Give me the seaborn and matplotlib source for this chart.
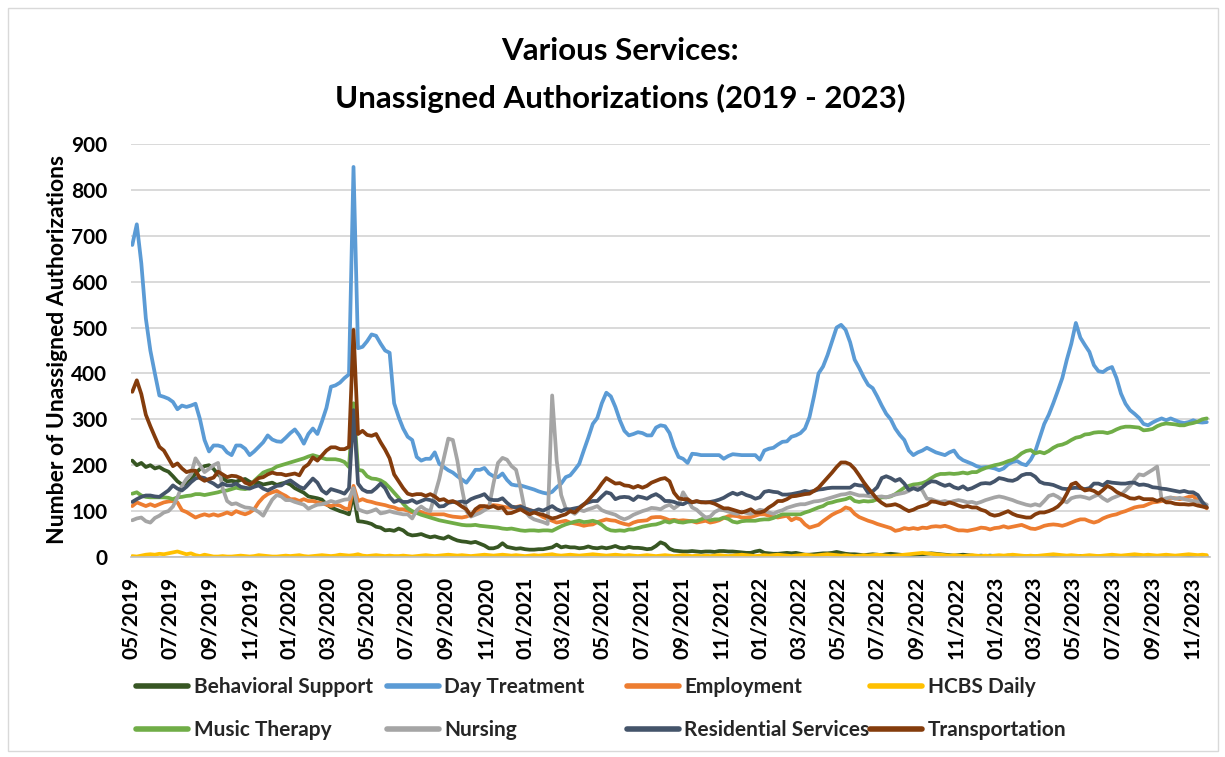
import pandas as pd
import matplotlib
matplotlib.use("Agg")
import matplotlib.pyplot as plt
import matplotlib.dates as mdates
from matplotlib.lines import Line2D
from matplotlib.patches import Rectangle
import seaborn as sns

# Weekly counts of unassigned authorizations, first week of May 2019 onward
behavioral_support = [
    210, 200, 205, 196, 200, 193, 196, 190, 186, 176,
    165, 158, 160, 168, 182, 192, 198, 200, 192, 180,
    172, 165, 166, 164, 168, 170, 164, 160, 162, 158,
    160, 162, 157, 160, 162, 158, 150, 145, 140, 132,
    130, 128, 125, 115, 108, 104, 100, 97, 93, 137,
    78, 77, 75, 72, 66, 64, 58, 59, 57, 62,
    58, 50, 47, 48, 50, 46, 43, 45, 42, 40,
    45, 40, 36, 34, 33, 31, 33, 29, 25, 19,
    19, 22, 30, 22, 20, 18, 19, 17, 16, 16,
    17, 17, 19, 21, 27, 21, 23, 21, 21, 19,
    20, 23, 20, 19, 21, 19, 21, 24, 20, 19,
    22, 20, 20, 19, 17, 18, 24, 32, 28, 18,
    14, 13, 12, 12, 13, 12, 11, 12, 12, 11,
    13, 13, 12, 12, 11, 10, 9, 9, 12, 14,
    9, 8, 7, 7, 8, 9, 8, 9, 7, 5,
    5, 6, 7, 8, 8, 9, 11, 9, 7, 6,
    6, 5, 4, 5, 6, 5, 4, 6, 7, 6,
    5, 4, 3, 4, 5, 6, 7, 8, 7, 6,
    5, 4, 3, 4, 5, 4, 3, 2, 3, 2,
    3, 2, 1, 2, 3, 2, 1, 2, 1, 2,
    1, 2, 1, 2, 3, 2, 1, 2, 1, 1,
    2, 1, 2, 1, 1, 2, 1, 0, 1, 1,
    1, 2, 1, 1, 0, 1, 2, 1, 1, 0,
    1, 1, 2, 1, 1, 2, 1, 1, 1,
]

day_treatment = [
    680, 725, 640, 520, 450, 400, 352, 349, 345, 338,
    322, 330, 327, 330, 334, 300, 255, 230, 243, 243,
    240, 228, 222, 243, 243, 236, 222, 230, 240, 250,
    265, 256, 252, 251, 260, 270, 278, 265, 247, 268,
    280, 268, 295, 325, 371, 374, 380, 390, 398, 850,
    455, 458, 470, 485, 482, 465, 450, 445, 335, 305,
    280, 262, 255, 218, 210, 214, 214, 228, 203, 196,
    189, 184, 176, 169, 162, 175, 190, 190, 194, 182,
    176, 174, 182, 168, 158, 156, 156, 153, 150, 147,
    143, 140, 138, 142, 152, 160, 174, 178, 190, 203,
    232, 260, 290, 303, 335, 358, 350, 327, 298, 275,
    265, 268, 272, 270, 265, 265, 282, 287, 285, 270,
    240, 218, 214, 205, 225, 224, 222, 222, 222, 222,
    222, 214, 220, 224, 223, 222, 222, 222, 222, 212,
    232, 236, 238, 245, 251, 252, 262, 265, 270, 280,
    305, 350, 400, 415, 440, 470, 500, 506, 495, 468,
    430, 412, 392, 375, 368, 350, 330, 312, 300, 280,
    266, 255, 232, 222, 228, 232, 238, 233, 228, 225,
    222, 228, 232, 218, 211, 207, 203, 198, 195, 196,
    195, 193, 189, 193, 202, 207, 209, 203, 200, 212,
    230, 260, 290, 310, 335, 362, 390, 430, 465, 510,
    478, 462, 447, 418, 405, 403, 410, 414, 390, 356,
    334, 320, 312, 303, 290, 287, 293, 298, 302, 298,
    302, 298, 294, 292, 294, 298, 294, 293, 294,
]

employment = [
    111, 119, 115, 111, 115, 111, 115, 119, 121, 122,
    119, 102, 98, 92, 86, 90, 93, 90, 93, 90,
    93, 97, 93, 100, 96, 93, 97, 104, 119, 130,
    137, 141, 144, 138, 133, 126, 126, 122, 126, 122,
    122, 119, 117, 114, 111, 114, 112, 106, 104, 155,
    122, 126, 122, 120, 117, 115, 113, 110, 108, 104,
    104, 101, 97, 99, 98, 94, 93, 93, 93, 93,
    90, 88, 87, 86, 88, 92, 98, 104, 109, 112,
    113, 112, 110, 108, 107, 109, 111, 105, 103, 98,
    93, 87, 83, 79, 75, 77, 79, 75, 73, 71,
    68, 70, 71, 76, 79, 82, 80, 79, 75, 72,
    70, 75, 78, 79, 80, 86, 87, 87, 84, 80,
    81, 79, 80, 79, 78, 75, 77, 79, 75, 77,
    80, 85, 89, 90, 89, 86, 86, 87, 90, 93,
    93, 90, 88, 86, 88, 90, 80, 85, 82, 71,
    64, 67, 70, 78, 85, 92, 97, 101, 108, 105,
    94, 87, 83, 79, 76, 72, 69, 66, 63, 57,
    59, 63, 61, 63, 61, 64, 63, 66, 67, 66,
    68, 65, 61, 58, 58, 57, 59, 61, 64, 63,
    60, 63, 64, 67, 64, 66, 68, 70, 66, 62,
    61, 64, 68, 70, 71, 70, 68, 71, 75, 79,
    82, 82, 78, 75, 78, 84, 88, 91, 93, 97,
    100, 104, 108, 110, 111, 115, 119, 120, 122, 125,
    129, 128, 126, 128, 131, 133, 122, 112, 106,
]

hcbs_daily = [
    2, 1, 3, 5, 6, 5, 7, 6, 8, 10,
    12, 9, 6, 8, 4, 2, 5, 3, 1, 1,
    2, 1, 1, 2, 3, 2, 1, 2, 4, 3,
    2, 1, 1, 2, 3, 2, 3, 4, 2, 1,
    2, 3, 4, 3, 2, 3, 5, 4, 3, 4,
    6, 3, 2, 3, 4, 3, 2, 3, 2, 2,
    3, 2, 1, 2, 3, 4, 3, 2, 3, 4,
    5, 4, 3, 4, 3, 2, 3, 4, 5, 4,
    3, 4, 5, 4, 3, 4, 3, 2, 3, 4,
    3, 4, 5, 6, 4, 3, 4, 5, 4, 3,
    4, 5, 6, 5, 4, 3, 4, 5, 4, 3,
    4, 3, 2, 3, 4, 3, 2, 3, 4, 3,
    2, 3, 4, 3, 2, 3, 2, 3, 2, 3,
    4, 3, 2, 3, 4, 5, 4, 3, 2, 3,
    4, 3, 4, 5, 4, 3, 2, 3, 4, 5,
    4, 3, 4, 5, 6, 5, 4, 3, 4, 3,
    2, 3, 4, 3, 4, 5, 4, 3, 2, 3,
    4, 5, 6, 7, 8, 9, 8, 7, 6, 5,
    4, 3, 4, 3, 2, 3, 4, 3, 2, 3,
    2, 3, 4, 3, 4, 5, 4, 3, 2, 3,
    2, 3, 4, 5, 6, 5, 4, 3, 4, 3,
    2, 3, 4, 3, 2, 3, 4, 5, 4, 3,
    4, 5, 6, 5, 4, 5, 4, 3, 4, 5,
    4, 3, 4, 5, 6, 5, 4, 5, 4,
]

music_therapy = [
    138, 141, 134, 131, 130, 130, 130, 130, 129, 126,
    130, 131, 133, 134, 137, 137, 135, 137, 139, 141,
    144, 145, 148, 151, 149, 148, 150, 166, 175, 184,
    188, 191, 197, 200, 203, 206, 209, 212, 215, 219,
    222, 219, 216, 213, 213, 213, 211, 207, 196, 335,
    190, 188, 176, 171, 170, 167, 161, 151, 140, 129,
    116, 106, 100, 96, 92, 89, 86, 83, 80, 78,
    76, 74, 72, 70, 69, 69, 70, 68, 67, 66,
    65, 64, 62, 61, 62, 60, 58, 57, 58, 58,
    57, 58, 58, 57, 62, 67, 71, 74, 77, 79,
    76, 77, 79, 76, 70, 62, 58, 57, 58, 57,
    60, 60, 63, 66, 68, 70, 71, 74, 78, 75,
    79, 76, 75, 77, 78, 78, 82, 86, 80, 82,
    82, 86, 83, 77, 75, 78, 79, 79, 79, 81,
    82, 82, 85, 89, 93, 93, 93, 93, 93, 97,
    100, 104, 108, 111, 117, 119, 122, 124, 126, 130,
    122, 120, 122, 121, 122, 126, 130, 130, 132, 137,
    144, 151, 155, 158, 159, 161, 165, 172, 178, 181,
    181, 182, 181, 182, 184, 182, 185, 185, 190, 194,
    197, 200, 202, 205, 209, 212, 218, 226, 231, 233,
    226, 229, 226, 231, 238, 243, 245, 249, 255, 260,
    262, 267, 268, 271, 272, 272, 270, 273, 278, 282,
    284, 284, 283, 282, 276, 277, 279, 285, 289, 291,
    290, 289, 287, 287, 290, 292, 295, 300, 302,
]

nursing = [
    80, 84, 86, 78, 75, 85, 90, 97, 100, 110,
    130, 155, 170, 180, 215, 200, 185, 192, 200, 205,
    150, 122, 115, 117, 112, 108, 107, 104, 98, 90,
    108, 125, 135, 132, 124, 124, 120, 117, 114, 105,
    110, 114, 115, 118, 122, 119, 122, 125, 126, 150,
    104, 100, 97, 100, 104, 95, 97, 100, 97, 95,
    93, 93, 84, 102, 110, 103, 100, 135, 170, 215,
    258, 255, 210, 150, 100, 88, 92, 96, 102, 108,
    160, 205, 216, 212, 198, 190, 150, 100, 88, 82,
    79, 76, 72, 352, 210, 135, 106, 100, 94, 103,
    100, 104, 107, 111, 102, 98, 95, 92, 86, 82,
    86, 92, 96, 100, 103, 107, 106, 104, 110, 114,
    106, 113, 141, 125, 108, 103, 94, 86, 88, 98,
    103, 102, 99, 96, 94, 99, 96, 94, 98, 103,
    101, 97, 94, 99, 102, 107, 110, 113, 115, 115,
    118, 121, 122, 124, 127, 130, 133, 136, 137, 140,
    137, 134, 134, 133, 131, 131, 132, 130, 133, 136,
    138, 140, 144, 150, 152, 145, 127, 126, 122, 120,
    122, 119, 122, 124, 122, 119, 120, 117, 120, 124,
    127, 130, 132, 130, 127, 124, 120, 117, 114, 112,
    115, 112, 122, 133, 136, 131, 124, 119, 128, 131,
    132, 130, 127, 132, 136, 128, 122, 128, 132, 136,
    145, 155, 168, 180, 178, 184, 190, 197, 125, 128,
    130, 127, 129, 126, 124, 122, 121, 119, 114,
]

residential_services = [
    120, 126, 131, 134, 134, 132, 131, 138, 145, 156,
    149, 145, 153, 163, 171, 174, 172, 165, 160, 153,
    160, 156, 156, 160, 153, 151, 149, 153, 156, 149,
    145, 150, 155, 156, 163, 167, 160, 153, 149, 160,
    171, 162, 145, 138, 148, 145, 142, 138, 150, 320,
    160, 147, 142, 142, 150, 160, 150, 131, 120, 124,
    120, 120, 124, 118, 122, 126, 124, 120, 110, 111,
    118, 120, 119, 121, 119, 126, 130, 133, 137, 126,
    124, 124, 128, 118, 110, 108, 110, 106, 102, 100,
    104, 101, 106, 111, 104, 100, 104, 104, 106, 108,
    115, 119, 122, 122, 132, 141, 138, 126, 130, 131,
    130, 124, 132, 130, 127, 133, 137, 131, 122, 122,
    120, 116, 115, 120, 120, 121, 120, 119, 120, 122,
    125, 129, 135, 140, 136, 140, 135, 132, 127, 130,
    142, 144, 142, 141, 136, 136, 137, 139, 141, 144,
    142, 144, 147, 148, 150, 151, 151, 151, 151, 151,
    158, 156, 155, 140, 143, 152, 172, 176, 172, 166,
    170, 160, 146, 150, 146, 152, 160, 165, 164, 159,
    155, 158, 152, 149, 154, 147, 150, 155, 160, 161,
    160, 165, 172, 170, 167, 166, 170, 178, 181, 181,
    175, 164, 160, 159, 157, 153, 149, 148, 150, 151,
    150, 148, 150, 160, 160, 156, 164, 162, 161, 160,
    160, 162, 162, 157, 158, 156, 152, 151, 149, 148,
    146, 144, 142, 144, 141, 141, 135, 120, 108,
]

transportation = [
    360, 385, 355, 310, 285, 262, 240, 232, 215, 198,
    204, 193, 185, 188, 188, 172, 166, 170, 173, 186,
    180, 174, 177, 176, 172, 162, 158, 164, 172, 174,
    180, 184, 181, 181, 178, 180, 182, 178, 195, 202,
    217, 210, 221, 232, 239, 239, 235, 235, 240, 495,
    268, 275, 266, 264, 268, 250, 234, 215, 180, 165,
    150, 138, 135, 137, 137, 133, 137, 132, 124, 126,
    120, 122, 117, 110, 104, 90, 104, 111, 111, 108,
    111, 106, 108, 95, 96, 100, 104, 98, 93, 97,
    94, 92, 88, 84, 86, 90, 93, 100, 97, 106,
    114, 124, 135, 146, 160, 172, 166, 160, 161, 156,
    155, 151, 155, 151, 155, 162, 166, 170, 172, 165,
    140, 128, 126, 126, 119, 122, 119, 119, 119, 116,
    111, 106, 106, 103, 100, 97, 100, 104, 97, 97,
    100, 108, 114, 122, 122, 126, 132, 133, 135, 137,
    138, 144, 151, 162, 173, 184, 196, 206, 206, 202,
    192, 178, 163, 150, 138, 126, 118, 112, 113, 115,
    111, 105, 100, 103, 108, 111, 114, 121, 120, 117,
    115, 119, 116, 112, 109, 111, 108, 108, 103, 100,
    93, 90, 92, 96, 100, 94, 90, 88, 86, 86,
    93, 97, 97, 100, 104, 110, 120, 138, 158, 162,
    152, 145, 147, 144, 138, 146, 155, 150, 142, 137,
    133, 128, 127, 130, 126, 126, 126, 122, 126, 119,
    119, 116, 115, 115, 114, 115, 112, 110, 108,
]

services = [
    "Behavioral Support", "Day Treatment", "Employment", "HCBS Daily",
    "Music Therapy", "Nursing", "Residential Services", "Transportation",
]
series_values = [
    behavioral_support, day_treatment, employment, hcbs_daily,
    music_therapy, nursing, residential_services, transportation,
]
colors = [
    "#375623", "#5B9BD5", "#ED7D31", "#FFC000",
    "#70AD47", "#A5A5A5", "#44546A", "#843C0C",
]
y_ticks = [0, 100, 200, 300, 400, 500, 600, 700, 800, 900]

frames = []
for name, vals in zip(services, series_values):
    dates = pd.date_range("2019-05-03", periods=len(vals), freq="7D")
    frames.append(pd.DataFrame({"week": dates, "count": vals, "service": name}))
df = pd.concat(frames, ignore_index=True)

sns.set_theme(style="white")
plt.rcParams["font.family"] = ["Lato", "DejaVu Sans"]
plt.rcParams["font.weight"] = "bold"

W, H = 1225, 757
fig = plt.figure(figsize=(W / 100, H / 100), dpi=100)
fig.patch.set_facecolor("white")

# chart frame
fig.patches.append(Rectangle((8 / W, 1 - 751 / H), 1210 / W, 743 / H,
                             transform=fig.transFigure, fill=False,
                             edgecolor="#D9D9D9", linewidth=1.0, zorder=0))

ax = fig.add_axes([131 / W, 1 - 557 / H, (1210 - 131) / W, (557 - 144) / H])
palette = dict(zip(services, colors))
sns.lineplot(data=df, x="week", y="count", hue="service", hue_order=services,
             palette=palette, linewidth=2.7, estimator=None, legend=False, ax=ax)

ax.set_ylim(0, 900)
ax.set_yticks(y_ticks)
ax.set_xlim(pd.Timestamp("2019-05-01"), pd.Timestamp("2023-11-29"))
ax.xaxis.set_major_locator(mdates.MonthLocator(bymonth=[1, 3, 5, 7, 9, 11]))
ax.xaxis.set_major_formatter(mdates.DateFormatter("%m/%Y"))
ax.grid(axis="y", color="#D9D9D9", linewidth=1.4)
ax.grid(axis="x", visible=False)
ax.set_axisbelow(True)
for side in ["left", "right", "top"]:
    ax.spines[side].set_visible(False)
ax.spines["bottom"].set_color("#BFBFBF")
ax.spines["bottom"].set_linewidth(1.2)
ax.tick_params(axis="x", direction="out", length=6, width=1.1, color="#BFBFBF",
               pad=8, labelsize=15, labelrotation=90)
ax.tick_params(axis="y", length=0, pad=17, labelsize=15)
for lab in ax.get_xticklabels() + ax.get_yticklabels():
    lab.set_fontweight("bold")
    lab.set_color("#000000")
ax.set_xlabel("")
ax.set_ylabel("")

fig.text(58 / W, 1 - 350 / H, "Number of Unassigned Authorizations", rotation=90,
         ha="center", va="center", fontsize=16.5, fontweight="bold", color="black")
fig.text(620 / W, 1 - 51 / H, "Various Services:", ha="center", va="center",
         fontsize=22.5, fontweight="bold", color="black")
fig.text(620 / W, 1 - 98 / H, "Unassigned Authorizations (2019 - 2023)", ha="center",
         va="center", fontsize=22.5, fontweight="bold", color="black")

# legend: two rows of four entries
legend_pos = [(136, 687), (387, 687), (627, 687), (870, 687),
              (136, 730), (387, 730), (627, 730), (870, 730)]
for name, color, (lx, ly) in zip(services, colors, legend_pos):
    handle = Line2D([], [], color=color, linewidth=4)
    fig.legend(handles=[handle], labels=[name], loc="center left",
               bbox_to_anchor=(lx / W, 1 - ly / H), frameon=False, borderpad=0,
               borderaxespad=0, handlelength=2.5, handletextpad=0.26,
               prop={"size": 15, "weight": "bold"})

fig.savefig("out.png", dpi=100, facecolor="white")
